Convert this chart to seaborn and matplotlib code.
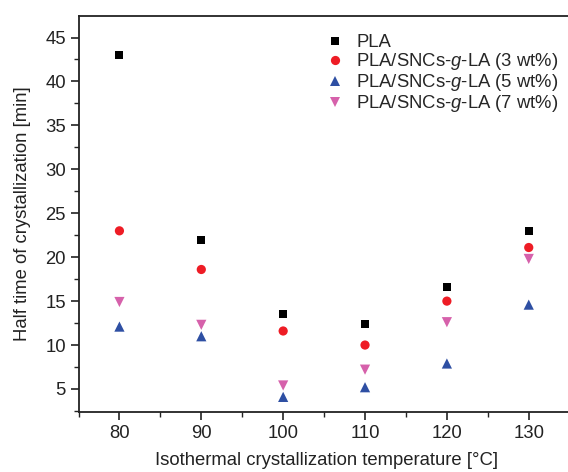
import matplotlib
matplotlib.use("Agg")
import matplotlib.pyplot as plt
import seaborn as sns
import pandas as pd
from matplotlib.ticker import MultipleLocator

temperatures = [80, 90, 100, 110, 120, 130]
pla = [43.0, 22.0, 13.5, 12.4, 16.6, 23.0]
snc3 = [23.0, 18.6, 11.6, 10.0, 15.0, 21.1]
snc5 = [12.1, 11.0, 4.1, 5.2, 7.9, 14.6]
snc7 = [14.9, 12.3, 5.4, 7.2, 12.6, 19.8]
series_names = ["PLA", "PLA/SNCs-$\\mathit{g}$-LA (3 wt%)",
                "PLA/SNCs-$\\mathit{g}$-LA (5 wt%)", "PLA/SNCs-$\\mathit{g}$-LA (7 wt%)"]

rows = []
for name, vals in zip(series_names, [pla, snc3, snc5, snc7]):
    for t, v in zip(temperatures, vals):
        rows.append({"T": t, "t_half": v, "series": name})
df = pd.DataFrame(rows)

sns.set_style("ticks")
plt.rcParams['font.family'] = ['Liberation Sans', 'DejaVu Sans']
plt.rcParams['mathtext.fontset'] = 'custom'
plt.rcParams['mathtext.it'] = 'Liberation Sans:italic'
plt.rcParams['mathtext.rm'] = 'Liberation Sans'

fig = plt.figure(figsize=(5.68, 4.72), dpi=100)
ax = fig.add_axes([78.5/568, 1-412/472, (575-78.5)/568, (412-16)/472])

palette = {series_names[0]: "#000000", series_names[1]: "#ee1c25",
           series_names[2]: "#2e4fa3", series_names[3]: "#d661ab"}
markers = {series_names[0]: "s", series_names[1]: "o",
           series_names[2]: "^", series_names[3]: "v"}
sizes = {series_names[0]: 34, series_names[1]: 44,
         series_names[2]: 54, series_names[3]: 54}
sns.scatterplot(data=df, x="T", y="t_half", hue="series", style="series",
                size="series", sizes=sizes,
                palette=palette, markers=markers, linewidth=0,
                ax=ax, legend=True)

ax.set_xlim(75.0, 135.65)
ax.set_ylim(2.38, 47.45)
ax.xaxis.set_major_locator(MultipleLocator(10))
ax.xaxis.set_minor_locator(MultipleLocator(5))
ax.yaxis.set_major_locator(MultipleLocator(5))
ax.yaxis.set_minor_locator(MultipleLocator(2.5))
ax.set_yticks([5, 10, 15, 20, 25, 30, 35, 40, 45])
ax.set_xticks(temperatures)
for sp in ax.spines.values():
    sp.set_linewidth(1.3)
    sp.set_color("#222222")
fs = 13.3
ax.tick_params(which="major", direction="out", length=6, width=1.2, labelsize=fs, colors="#222222", pad=3)
ax.tick_params(which="minor", direction="out", length=3.5, width=1.0, colors="#222222")
ax.set_xlabel("Isothermal crystallization temperature [°C]", fontsize=fs, color="#222222", labelpad=7.5)
ax.set_ylabel("Half time of crystallization [min]", fontsize=fs, color="#222222", labelpad=10)

leg = ax.legend(loc="upper left", bbox_to_anchor=(0.479, 0.972), frameon=False,
                fontsize=fs, handletextpad=0.57, labelspacing=0.0,
                borderaxespad=0, handlelength=1.2)

fig.savefig("out.png", dpi=100)
